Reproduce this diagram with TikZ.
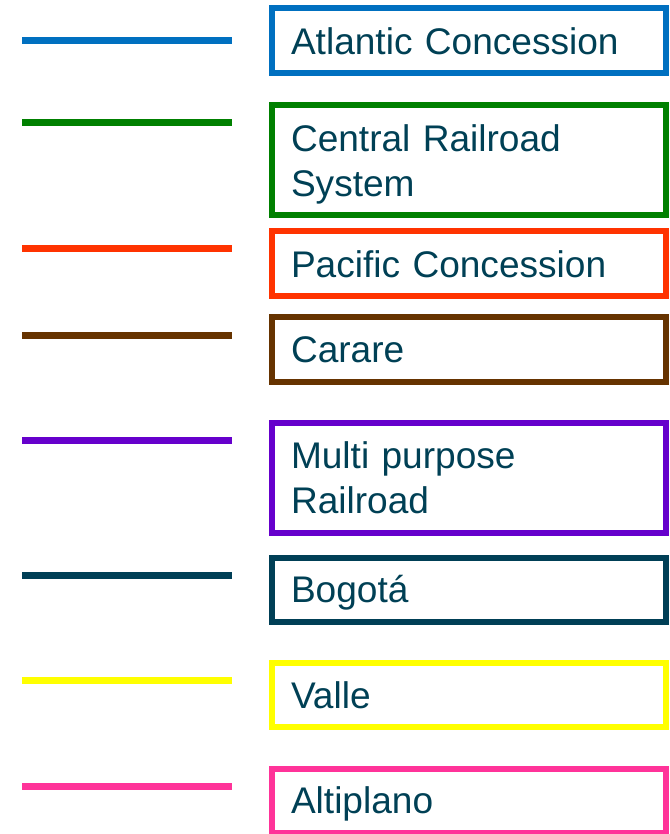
\documentclass[tikz,border=0pt]{standalone}
\usepackage{fontspec}
\setmainfont{Liberation Sans}
\definecolor{txt}{HTML}{004055}
\definecolor{cA}{HTML}{0070C0}
\definecolor{cB}{HTML}{008000}
\definecolor{cC}{HTML}{FF3300}
\definecolor{cD}{HTML}{663300}
\definecolor{cE}{HTML}{6600CC}
\definecolor{cF}{HTML}{003F56}
\definecolor{cG}{HTML}{FFFF00}
\definecolor{cH}{HTML}{FF3399}
\tikzset{x=0.75pt,y=-0.75pt,
 boxstyle/.style={draw=#1,line width=4.5pt,rectangle,inner sep=0pt,outer sep=0pt,anchor=north west,minimum width=295.6pt},
 lbl/.style={anchor=base west,inner sep=0pt,outer sep=0pt,text=txt,text width=270pt,align=left,font=\fontsize{27.8}{33.75}\selectfont},
 lin/.style={draw=#1,line width=5.25pt}}
\begin{document}
\begin{tikzpicture}
\useasboundingbox (0,0) rectangle (670,834);
\newcommand{\entry}[7]{%
 \coordinate (a#1) at (22,#3); \coordinate (b#1) at (232,#3);
 \draw[lin=#2] (a#1) -- (b#1);
 \node[boxstyle=#2,minimum height=#5*0.75pt] (n#1) at (272,#4) {};
 \node[lbl] (t#1) at (291,#6) {#7};}
\entry{1}{cA}{40.5}{8.3}{64.5}{54.7}{Atlantic Concession}
\entry{2}{cB}{122.5}{105.3}{110}{151.2}{Central Railroad\\System}
\entry{3}{cC}{248}{231}{64.5}{277.3}{Pacific Concession}
\entry{4}{cD}{335}{317}{64.5}{362}{Carare}
\entry{5}{cE}{440}{423}{109.5}{468}{Multi purpose\\Railroad}
\entry{6}{cF}{575}{558}{63.5}{602}{Bogotá}
\entry{7}{cG}{680.5}{663}{64}{708}{Valle}
\entry{8}{cH}{786}{769}{64}{813.6}{Altiplano}
\end{tikzpicture}
\end{document}
